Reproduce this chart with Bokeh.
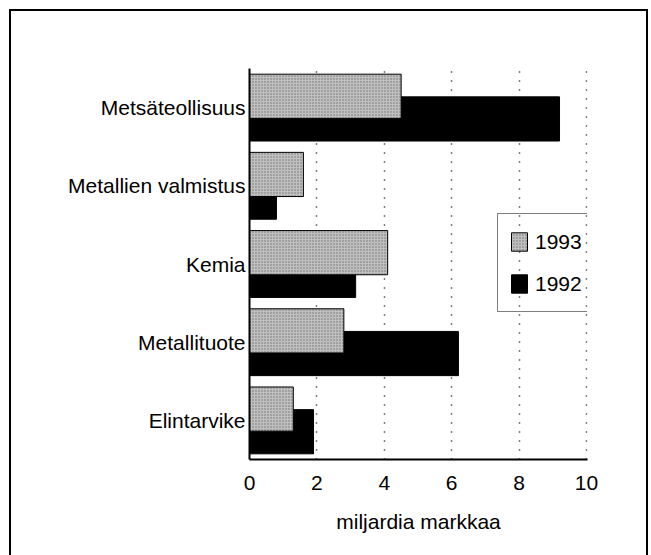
from bokeh.plotting import figure
from bokeh.models import FactorRange, Range1d, Legend, LegendItem, FixedTicker, ColumnDataSource
from bokeh.transform import dodge
from bokeh.embed import file_html
from bokeh.resources import INLINE

# ---- data ----
categories = ["Metsäteollisuus", "Metallien valmistus", "Kemia", "Metallituote", "Elintarvike"]
values_1993 = [4.5, 1.6, 4.1, 2.8, 1.3]
values_1992 = [9.2, 0.8, 3.15, 6.2, 1.9]
series_names = ["1993", "1992"]
x_ticks = [0, 2, 4, 6, 8, 10]
grid_ticks = [2, 4, 6, 8, 10]
x_label = "miljardia markkaa"

FONT = "Liberation Sans"

source = ColumnDataSource(dict(cat=categories, v93=values_1993, v92=values_1992))
factors = list(reversed(categories))

p = figure(width=639, height=556,
           y_range=FactorRange(*factors, range_padding=0),
           x_range=Range1d(0, 10.03),
           output_backend="svg", toolbar_location=None,
           min_border_left=238, min_border_right=63,
           min_border_top=57, min_border_bottom=108)
p.margin = (9, 0, 0, 9)
p.styles = {"border": "2px solid black"}
p.outline_line_color = None
p.background_fill_color = "white"
p.border_fill_color = "white"

black = p.hbar(y=dodge("cat", -0.145, range=p.y_range), left=0, right="v92",
               height=0.565, source=source,
               fill_color="black", line_color="black", line_width=1)
gray = p.hbar(y=dodge("cat", 0.145, range=p.y_range), left=0, right="v93",
              height=0.565, source=source,
              fill_color="#c0c0c0", line_color="black", line_width=1,
              hatch_pattern="dot", hatch_scale=3, hatch_color="#707070", hatch_weight=1)

# grid
p.ygrid.visible = False
p.xgrid.ticker = FixedTicker(ticks=grid_ticks)
p.xgrid.grid_line_color = "black"
p.xgrid.grid_line_dash = "1 8"
p.xgrid.grid_line_width = 1.5

# axes
p.xaxis.ticker = FixedTicker(ticks=x_ticks)
for ax in (p.xaxis, p.yaxis):
    ax.major_tick_line_color = None
    ax.minor_tick_line_color = None
    ax.major_tick_out = 0
    ax.major_tick_in = 0
    ax.axis_line_color = "black"
    ax.axis_line_width = 2
    ax.major_label_text_font = FONT
    ax.major_label_text_font_size = "21px"
    ax.major_label_text_color = "black"

p.xaxis.major_label_standoff = 16
p.yaxis.major_label_standoff = 4
p.xaxis.axis_label = x_label
p.xaxis.axis_label_text_font = FONT
p.xaxis.axis_label_text_font_size = "21px"
p.xaxis.axis_label_text_font_style = "normal"
p.xaxis.axis_label_text_color = "black"
p.xaxis.axis_label_standoff = 17

legend = Legend(items=[LegendItem(label=series_names[0], renderers=[gray]),
                       LegendItem(label=series_names[1], renderers=[black])],
                location=(248, 147),
                glyph_width=20, glyph_height=23, label_height=33,
                spacing=9, padding=11, margin=0, label_standoff=6,
                label_text_font=FONT, label_text_font_size="21px",
                label_text_color="black",
                border_line_color="black", border_line_width=1.5,
                background_fill_alpha=0)
p.add_layout(legend)

open("out.html", "w").write(file_html(p, INLINE))
